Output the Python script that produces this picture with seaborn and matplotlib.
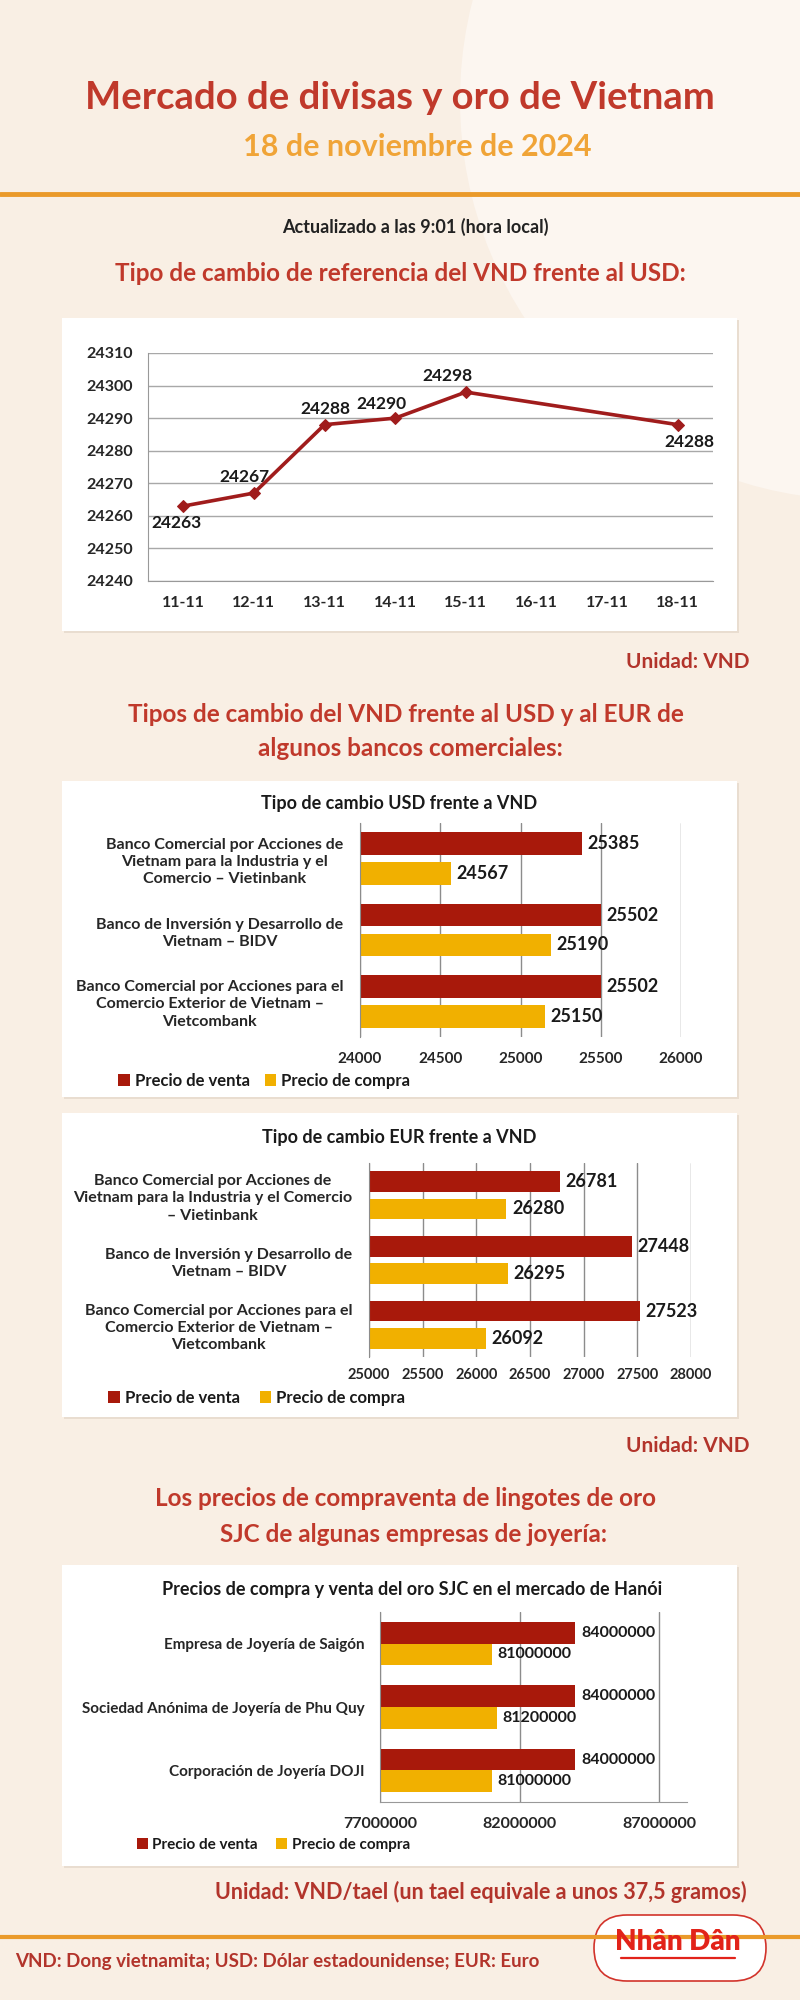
import matplotlib
matplotlib.use("Agg")
import matplotlib.pyplot as plt
from matplotlib.patches import Rectangle, FancyBboxPatch, Circle
from matplotlib.lines import Line2D
import numpy as np
import pandas as pd
import seaborn as sns

dates = ["11-11", "12-11", "13-11", "14-11", "15-11", "16-11", "17-11", "18-11"]
usd_ref = [24263, 24267, 24288, 24290, 24298, np.nan, np.nan, 24288]
ref_ticks = [24240, 24250, 24260, 24270, 24280, 24290, 24300, 24310]

series_names = ["Precio de venta", "Precio de compra"]

usd_banks = ["Banco Comercial por Acciones de\nVietnam para la Industria y el\nComercio – Vietinbank",
             "Banco de Inversión y Desarrollo de\nVietnam – BIDV",
             "Banco Comercial por Acciones para el\nComercio Exterior de Vietnam –\nVietcombank"]
usd_sell = [25385, 25502, 25502]
usd_buy = [24567, 25190, 25150]
usd_ticks = [24000, 24500, 25000, 25500, 26000]

eur_banks = ["Banco Comercial por Acciones de\nVietnam para la Industria y el Comercio\n– Vietinbank",
             "Banco de Inversión y Desarrollo de\nVietnam – BIDV",
             "Banco Comercial por Acciones para el\nComercio Exterior de Vietnam –\nVietcombank"]
eur_sell = [26781, 27448, 27523]
eur_buy = [26280, 26295, 26092]
eur_ticks = [25000, 25500, 26000, 26500, 27000, 27500, 28000]

gold_firms = ["Empresa de Joyería de Saigón",
              "Sociedad Anónima de Joyería de Phu Quy",
              "Corporación de Joyería DOJI"]
gold_sell = [84000000, 84000000, 84000000]
gold_buy = [81000000, 81200000, 81000000]
gold_ticks = [77000000, 82000000, 87000000]

# ---- colours ----
BG = "#F9EFE4"
RED_T = "#C0392B"
ORANGE = "#EA9A2A"
SUB = "#F0A437"
DARK = "#B2342B"
BAR_RED = "#A8190B"
BAR_YEL = "#F1B000"
LINE = "#A01C1C"
GRID = "#8C8C8C"

sns.set_style("white")
plt.rcParams["font.family"] = ["Lato", "DejaVu Sans"]
plt.rcParams["text.color"] = "#1A1A1A"

W, H = 800, 2000
fig = plt.figure(figsize=(8, 20), dpi=100, facecolor=BG)


def box(x0, y0, x1, y1):
    return [x0 / W, 1 - y1 / H, (x1 - x0) / W, (y1 - y0) / H]


def fy(y):
    return 1 - y / H


def panel(x0, y0, x1, y1):
    fig.patches.append(Rectangle((x0 / W + 0.002, fy(y1) - 0.0012), (x1 - x0) / W, (y1 - y0) / H,
                                 transform=fig.transFigure, facecolor="#E9DDD0", lw=0, zorder=-6))
    fig.patches.append(Rectangle((x0 / W, fy(y1)), (x1 - x0) / W, (y1 - y0) / H,
                                 transform=fig.transFigure, facecolor="white", lw=0, zorder=-5))


# soft background shape behind the header
fig.patches.append(Circle((8.6, 19.0), 4.0, transform=fig.dpi_scale_trans,
                          facecolor="#FCF6F0", lw=0, zorder=-8))

# ---- header ----
fig.text(0.5, fy(98), "Mercado de divisas y oro de Vietnam", ha="center", va="center",
         fontsize=27.5, fontweight="bold", color=RED_T)
fig.text(417 / W, fy(147), "18 de noviembre de 2024", ha="center", va="center",
         fontsize=22, fontweight="bold", color=SUB)
fig.add_artist(Line2D([0, 1], [fy(194), fy(194)], transform=fig.transFigure, color=ORANGE, lw=3.5))
fig.text(415 / W, fy(227), "Actualizado a las 9:01 (hora local)", ha="center", va="center",
         fontsize=13, fontweight="bold", color="#222222")
fig.text(0.5, fy(273), "Tipo de cambio de referencia del VND frente al USD:", ha="center", va="center",
         fontsize=17.5, fontweight="bold", color=RED_T)

# ---- reference rate line chart ----
panel(62, 318, 737, 631)
ref_df = pd.DataFrame({"pos": range(len(dates)), "tipo": usd_ref}).dropna()
ax1 = fig.add_axes(box(148, 353, 713, 581))
ax1.set_facecolor("none")
sns.lineplot(data=ref_df, x="pos", y="tipo", ax=ax1, color=LINE, lw=2.6,
             marker="D", markersize=6.5, markeredgecolor=LINE)
ax1.set_xlim(-0.5, len(dates) - 0.5)
ax1.set_ylim(ref_ticks[0], ref_ticks[-1])
ax1.set_yticks(ref_ticks)
ax1.set_xticks(range(len(dates)), dates)
ax1.set_xticks(np.arange(-0.5, len(dates)), minor=True)
ax1.set_xlabel("")
ax1.set_ylabel("")
ax1.set_axisbelow(True)
ax1.yaxis.grid(True, color="#A8A8A8", lw=1)
ax1.tick_params(axis="x", which="major", length=0, pad=11, labelsize=11.5)
ax1.tick_params(axis="x", which="minor", length=5, color="#999999", width=1)
ax1.tick_params(axis="y", length=4, color="#999999", pad=7, labelsize=11.5)
for t in ax1.get_xticklabels() + ax1.get_yticklabels():
    t.set_fontweight("bold")
for s in ["top", "right"]:
    ax1.spines[s].set_visible(False)
for s in ["left", "bottom"]:
    ax1.spines[s].set_color("#999999")
label_offsets = [(-7, -17), (-10, 16), (1, 16), (-14, 14), (-18, 16), (12, -17)]
for (pos, val), off in zip(ref_df[["pos", "tipo"]].values, label_offsets):
    ax1.annotate(f"{val:.0f}", (pos, val), xytext=off, textcoords="offset pixels",
                 ha="center", va="center", fontsize=12.5, fontweight="bold")

fig.text(750 / W, fy(662), "Unidad: VND", ha="right", va="center",
         fontsize=15, fontweight="bold", color=DARK)

# ---- section 2 ----
fig.text(406 / W, fy(714), "Tipos de cambio del VND frente al USD y al EUR de", ha="center", va="center",
         fontsize=17.5, fontweight="bold", color=RED_T)
fig.text(410 / W, fy(749), "algunos bancos comerciales:", ha="center", va="center",
         fontsize=17.5, fontweight="bold", color=RED_T)


def bank_chart(ax, labels, sell, buy, ticks, xmax, lab_pad, tick_pad, width, gap,
               weight="bold", label_size=11.5, value_size=13, value_weight="bold", tick_size=11):
    df = pd.DataFrame({"entidad": labels * 2,
                       "serie": [series_names[0]] * len(sell) + [series_names[1]] * len(buy),
                       "valor": sell + buy})
    sns.barplot(data=df, y="entidad", x="valor", hue="serie", hue_order=series_names,
                palette=[BAR_RED, BAR_YEL], saturation=1, orient="h", width=width, gap=gap,
                errorbar=None, linewidth=0, ax=ax)
    ax.set_facecolor("none")
    ax.set_xlim(ticks[0], xmax)
    ax.set_xticks(ticks, [f"{t:d}" for t in ticks])
    ax.set_xlabel("")
    ax.set_ylabel("")
    ax.set_axisbelow(True)
    ax.xaxis.grid(True, color=GRID, lw=1)
    ax.tick_params(axis="x", length=0, pad=tick_pad, labelsize=tick_size)
    ax.tick_params(axis="y", length=0, pad=lab_pad, labelsize=label_size)
    for t in ax.get_xticklabels():
        t.set_fontweight(value_weight)
    for t in ax.get_yticklabels():
        t.set_multialignment("center")
        t.set_linespacing(1.3)
        t.set_fontweight(weight)
    for s in ["top", "right", "bottom"]:
        ax.spines[s].set_visible(False)
    ax.spines["left"].set_color(GRID)
    for c in ax.containers:
        ax.bar_label(c, fmt="%d", padding=4, fontsize=value_size, fontweight=value_weight)
    handles, names = ax.get_legend_handles_labels()
    ax.get_legend().remove()
    return handles, names


def chart_legend(ax, handles, names, x, y, spacing, size=12, weight="bold"):
    leg = ax.legend(handles, names, loc="center left", bbox_to_anchor=(x / W, fy(y)),
                    bbox_transform=fig.transFigure, ncol=2, frameon=False,
                    handlelength=0.7, handleheight=0.7, handletextpad=0.3,
                    columnspacing=spacing, borderaxespad=0, borderpad=0,
                    prop={"size": size, "weight": weight})
    return leg


# USD chart
panel(62, 781, 737, 1097)
fig.text(399 / W, fy(803), "Tipo de cambio USD frente a VND", ha="center", va="center",
         fontsize=13, fontweight="bold")
ax2 = fig.add_axes(box(360, 823, 681, 1037))
h2, n2 = bank_chart(ax2, usd_banks, usd_sell, usd_buy, usd_ticks, usd_ticks[-1],
                    lab_pad=12, tick_pad=11, width=0.84, gap=0.24)
chart_legend(ax2, h2, n2, 118, 1081, 0.9)

# EUR chart
panel(62, 1113, 737, 1417)
fig.text(399 / W, fy(1138), "Tipo de cambio EUR frente a VND", ha="center", va="center",
         fontsize=13, fontweight="bold")
ax3 = fig.add_axes(box(369, 1163, 691, 1357))
h3, n3 = bank_chart(ax3, eur_banks, eur_sell, eur_buy, eur_ticks, eur_ticks[-1],
                    lab_pad=12, tick_pad=8, width=0.84, gap=0.24, tick_size=10.5)
chart_legend(ax3, h3, n3, 108, 1398, 1.2)

fig.text(750 / W, fy(1446), "Unidad: VND", ha="right", va="center",
         fontsize=15, fontweight="bold", color=DARK)

# ---- section 3: gold ----
fig.text(406 / W, fy(1498), "Los precios de compraventa de lingotes de oro", ha="center", va="center",
         fontsize=17.5, fontweight="bold", color=RED_T)
fig.text(414 / W, fy(1534), "SJC de algunas empresas de joyería:", ha="center", va="center",
         fontsize=17.5, fontweight="bold", color=RED_T)

panel(62, 1565, 737, 1866)
fig.text(412 / W, fy(1589), "Precios de compra y venta del oro SJC en el mercado de Hanói",
         ha="center", va="center", fontsize=13, fontweight="bold")
ax4 = fig.add_axes(box(380, 1612, 687, 1802))
h4, n4 = bank_chart(ax4, gold_firms, gold_sell, gold_buy, gold_ticks, 88000000,
                    lab_pad=11, tick_pad=11, width=0.68, gap=0,
                    weight="bold", label_size=11, value_size=11.5, value_weight="bold",
                    tick_size=11.5)
ax4.spines["bottom"].set_visible(True)
ax4.spines["bottom"].set_color("#999999")
chart_legend(ax4, h4, n4, 137, 1845, 1.2, size=11)

fig.text(747 / W, fy(1892), "Unidad: VND/tael (un tael equivale a unos 37,5 gramos)", ha="right",
         va="center", fontsize=15.5, fontweight="bold", color=DARK)

# ---- footer ----
fig.add_artist(Line2D([0, 1], [fy(1937), fy(1937)], transform=fig.transFigure, color=ORANGE, lw=3))
fig.text(15 / W, fy(1962), "VND: Dong vietnamita; USD: Dólar estadounidense; EUR: Euro", ha="left",
         va="center", fontsize=13.5, fontweight="bold", color=DARK)
logo = FancyBboxPatch((5.94, 0.19), 1.72, 0.66, boxstyle="round,pad=0,rounding_size=0.33",
                      transform=fig.dpi_scale_trans, facecolor="white", edgecolor="#D2332B", lw=1.2)
fig.add_artist(logo)
fig.text(678 / W, fy(1942), "Nhân Dân", ha="center", va="center", fontsize=20,
         fontweight="heavy", color="#E2231A")
fig.add_artist(Line2D([621 / W, 735 / W], [fy(1958), fy(1958)], transform=fig.transFigure,
                      color="#E2231A", lw=1.6))

fig.savefig("out.png", dpi=100, facecolor=BG)
